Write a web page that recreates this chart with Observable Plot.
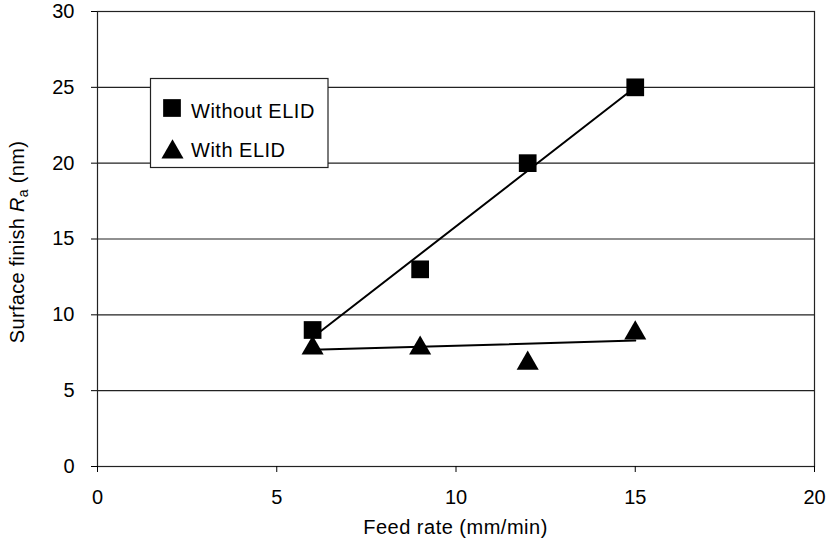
<!DOCTYPE html>
<html>
<head>
<meta charset="utf-8">
<script src="https://cdn.jsdelivr.net/npm/d3@7"></script>
<script src="https://cdn.jsdelivr.net/npm/@observablehq/plot@0.6"></script>
<style>
  html, body { margin: 0; padding: 0; background: #fff; }
  #chart { width: 827px; height: 546px; }
</style>
</head>
<body>
<div id="chart"></div>
<script>
// Data
const feedRate = [6, 9, 12, 15];
const withoutELID = [9, 13, 20, 25];
const withELID = [8, 8, 7, 9];
const xTicks = [0, 5, 10, 15, 20];
const yTicks = [0, 5, 10, 15, 20, 25, 30];
const gridTicks = [5, 10, 15, 20, 25];
const seriesNames = ["Without ELID", "With ELID"];

const rows = feedRate.map((f, i) => ({ feed: f, without: withoutELID[i], with: withELID[i] }));

const FONT = "'Liberation Sans', Arial, Helvetica, sans-serif";

const chart = Plot.plot({
  width: 827,
  height: 546,
  marginLeft: 97,
  marginRight: 13,
  marginTop: 11,
  marginBottom: 80,
  style: { fontFamily: FONT, fontSize: "20px", color: "#000", background: "#fff" },
  x: { domain: [0, 20], ticks: xTicks, label: null },
  y: { domain: [0, 30], ticks: yTicks, label: null },
  marks: [
    Plot.gridY(gridTicks, { stroke: "#222", strokeOpacity: 1, strokeWidth: 1.2 }),
    Plot.frame({ stroke: "#222", strokeWidth: 1.2 }),
    Plot.axisX({ ticks: xTicks, tickSize: 6, tickPadding: 17, label: null, fontSize: 20 }),
    Plot.axisY({ ticks: yTicks, tickSize: 6, tickPadding: 17, label: null, fontSize: 20 }),
    Plot.linearRegressionY(rows, { x: "feed", y: "without", ci: 0, stroke: "#000", strokeWidth: 2 }),
    Plot.linearRegressionY(rows, { x: "feed", y: "with", ci: 0, stroke: "#000", strokeWidth: 2 }),
    Plot.dot(rows, { x: "feed", y: "without", symbol: "square", r: 10, fill: "#000", stroke: "none" }),
    Plot.dot(rows, { x: "feed", y: "with", symbol: "triangle", r: 8.2, fill: "#000", stroke: "none", dy: 3 })
  ]
});

document.getElementById("chart").appendChild(chart);

const svg = d3.select(chart);

// X axis label
svg.append("text")
  .attr("x", 455.5)
  .attr("y", 534)
  .attr("text-anchor", "middle")
  .attr("font-family", FONT)
  .attr("font-size", 20)
  .attr("letter-spacing", 0.5)
  .attr("fill", "#000")
  .text("Feed rate (mm/min)");

// Y axis label with italic R and subscript a
const yl = svg.append("text")
  .attr("transform", "translate(24,242) rotate(-90)")
  .attr("text-anchor", "middle")
  .attr("font-family", FONT)
  .attr("font-size", 20)
  .attr("letter-spacing", 0.3)
  .attr("fill", "#000");
yl.append("tspan").text("Surface finish ");
yl.append("tspan").attr("font-style", "italic").text("R");
yl.append("tspan").attr("font-size", 14).attr("dy", 4).text("a");
yl.append("tspan").attr("dy", -4).text(" (nm)");

// Legend
const lg = svg.append("g").attr("text-anchor", "start");
lg.append("rect")
  .attr("x", 150.5).attr("y", 78.5)
  .attr("width", 177.5).attr("height", 89)
  .attr("fill", "#fff").attr("stroke", "#222").attr("stroke-width", 1.2);
const symSq = d3.symbol(d3.symbolSquare, Math.PI * 10 * 10)();
const symTr = d3.symbol(d3.symbolTriangle, Math.PI * 8.2 * 8.2)();
lg.append("path").attr("d", symSq).attr("transform", "translate(172,108)").attr("fill", "#000");
lg.append("path").attr("d", symTr).attr("transform", "translate(172.5,152)").attr("fill", "#000");
lg.append("text").attr("x", 191).attr("y", 118).attr("text-anchor", "start").attr("font-family", FONT).attr("font-size", 20).attr("letter-spacing", 0.5).attr("fill", "#000").text(seriesNames[0]);
lg.append("text").attr("x", 191).attr("y", 157).attr("text-anchor", "start").attr("font-family", FONT).attr("font-size", 20).attr("letter-spacing", 0.5).attr("fill", "#000").text(seriesNames[1]);
</script>
</body>
</html>
